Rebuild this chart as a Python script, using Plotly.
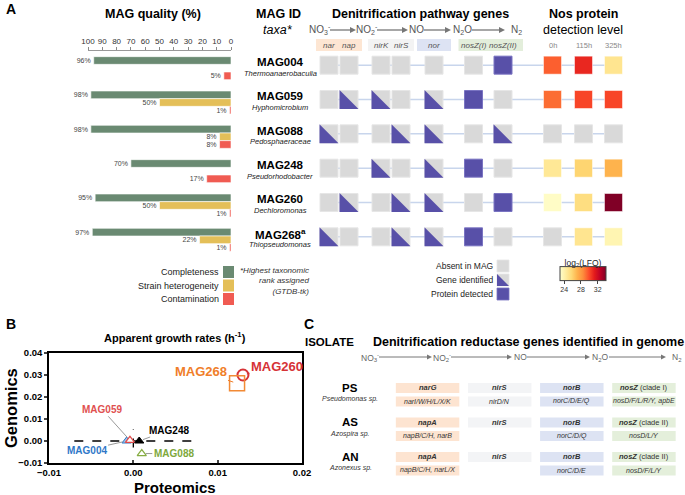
import plotly.graph_objects as go
from plotly.colors import sequential

W, H = 685, 495
FONT = "Arial, 'Liberation Sans', sans-serif"

# ------------------------------------------------------------------ data
MAGS = ["MAG004", "MAG059", "MAG088", "MAG248", "MAG260", "MAG268"]
MAG_LABELS = ["MAG004", "MAG059", "MAG088", "MAG248", "MAG260", "MAG268<sup>a</sup>"]
TAXA = ["Thermoanaerobaculia", "Hyphomicrobium", "Pedosphaeraceae",
        "Pseudorhodobacter", "Dechloromonas", "Thiopseudomonas"]
COMPLETENESS = [96, 98, 98, 70, 95, 97]
STRAIN_HET = [0, 50, 8, 0, 50, 22]
CONTAMINATION = [5, 1, 8, 17, 1, 1]
QUALITY_TICKS = [100, 90, 80, 70, 60, 50, 40, 30, 20, 10, 0]

GENES = ["nar", "nap", "nirK", "nirS", "nor", "nosZ(I)", "nosZ(II)"]
# 0 = absent in MAG, 1 = gene identified, 2 = protein detected
GENE_STATUS = [
    [0, 0, 0, 0, 0, 0, 2],
    [0, 1, 1, 0, 1, 2, 0],
    [1, 0, 0, 1, 1, 0, 1],
    [0, 0, 1, 0, 1, 2, 0],
    [0, 1, 0, 1, 1, 0, 2],
    [1, 0, 0, 1, 1, 2, 0],
]
NOS_TIMES = ["0h", "115h", "325h"]
NOS_LFQ = [
    [29.5, 30.9, 24.9],
    [29.2, 30.1, 30.1],
    [None, None, None],
    [24.7, 25.9, 27.1],
    [23.2, 25.4, 34.0],
    [None, 24.9, 23.8],
]
LFQ_RANGE = [23, 34]
LFQ_TICKS = [24, 28, 32]
PATHWAY_SPECIES = ["NO<sub>3</sub><sup>-</sup>", "NO<sub>2</sub><sup>-</sup>", "NO",
                   "N<sub>2</sub>O", "N<sub>2</sub>"]

PROTEOMICS_RATE = [-0.0008, -0.0004, 0.0010, 0.0007, 0.0130, 0.0123]
GENOMICS_RATE = [0.0000, 0.0003, -0.0057, 0.0000, 0.0300, 0.0262]
B_XTICKS = [-0.01, 0.0, 0.01, 0.02]
B_YTICKS = [-0.01, 0.0, 0.01, 0.02, 0.03, 0.04]
ZERO_HLINE_X = [-0.007, 0.007]
ZERO_VLINE_Y = [-0.003, 0.0055]

ISOLATES = ["PS", "AS", "AN"]
ISOLATE_TAXA = ["Pseudomonas sp.", "Azospira sp.", "Azonexus sp."]
CORE_GENES = [
    ["narG", "nirS", "norB", "nosZ (clade I)"],
    ["napA", "nirS", "norB", "nosZ (clade II)"],
    ["napA", "nirS", "norB", "nosZ (clade II)"],
]
ACCESSORY_GENES = [
    ["narI/W/H/L/X/K", "nirD/N", "norC/D/E/Q", "nosD/F/L/R/Y, apbE"],
    ["napB/C/H, narB", "", "norC/D/Q", "nosD/L/Y"],
    ["napB/C/H, narL/X", "", "norC/D/E", "nosD/F/L/Y"],
]

# ------------------------------------------------------------------ style / layout constants
GREEN, YELLOW, RED = "#6a8a72", "#e4bf58", "#f05b52"
GRAY_BOX, PURPLE = "#d9d9d9", "#5850a8"
LINK = "#c8d5ec"
GENE_X = [329, 349, 381, 401, 434, 473.5, 503]     # column centres (px) in panel A grid
HEAT_X = [552.5, 583.5, 613.5]
BOX = 18
ROW_PX = 206 / 6
C_COL_FILL = ["#fde4d1", "#f3f4f6", "#dde3f3", "#e4efdb"]
B_STYLE = {
    "MAG004": dict(symbol="triangle-up", size=8, color="#9fc4ea", line="#2f78c8", lw=1, tc="#2f78c8", ts=10, ax=-40, ay=9, ac="#999"),
    "MAG059": dict(symbol="triangle-up", size=8, color="white", line="#e04a4a", lw=1.2, tc="#e05050", ts=10, ax=-28, ay=-31, ac="#999"),
    "MAG088": dict(symbol="triangle-up", size=8, color="white", line="#86ad43", lw=1.2, tc="#7ea83c", ts=10, ax=32, ay=0, ac="#999"),
    "MAG248": dict(symbol="triangle-up", size=8, color="black", line="black", lw=1, tc="black", ts=10, ax=30, ay=-11, ac="#999"),
    "MAG260": dict(symbol="circle", size=11, color="rgba(255,255,255,0)", line="#d63336", lw=2, tc="#d63336", ts=13, ax=34, ay=-9, ac="#d63336"),
    "MAG268": dict(symbol="square", size=15, color="rgba(255,255,255,0)", line="#f28a35", lw=1.5, tc="#f07e2a", ts=13, ax=-36, ay=-12, ac="#f07e2a"),
}


def px(x):
    return x / W


def py(y):
    return 1 - y / H


fig = go.Figure()

# ------------------------------------------------------------------ Panel A: MAG quality bars
for name, vals, col in [("Completeness", COMPLETENESS, GREEN),
                        ("Strain heterogeneity", STRAIN_HET, YELLOW),
                        ("Contamination", CONTAMINATION, RED)]:
    fig.add_trace(go.Bar(
        y=MAGS, x=vals, orientation="h", name=name, xaxis="x", yaxis="y",
        marker=dict(color=col, line=dict(width=0.6, color="white")),
        text=[f"{v}%" if v else "" for v in vals], textposition="outside",
        textfont=dict(size=7, color="#444"), constraintext="none",
        cliponaxis=False, showlegend=False, hoverinfo="skip"))

# ------------------------------------------------------------------ Panel A: gene grid
link_x, link_y = [], []
for i in range(len(MAGS)):
    link_x += [GENE_X[0], HEAT_X[-1], None]
    link_y += [i, i, None]
fig.add_trace(go.Scatter(x=link_x, y=link_y, mode="lines", xaxis="x2", yaxis="y2",
                         line=dict(color=LINK, width=1.5), showlegend=False, hoverinfo="skip"))

gx, gy, sx, sy, tx, ty = [], [], [], [], [], []
hx = (BOX + 1) / 2
hy = hx / ROW_PX
for i, row in enumerate(GENE_STATUS):
    for j, s in enumerate(row):
        if s in (0, 1):
            gx.append(GENE_X[j]); gy.append(i)
        if s == 2:
            sx.append(GENE_X[j]); sy.append(i)
        if s == 1:
            cx = GENE_X[j]
            tx += [cx - hx, cx - hx, cx + hx, cx - hx, None]
            ty += [i - hy, i + hy, i + hy, i - hy, None]
for i, row in enumerate(NOS_LFQ):
    for j, v in enumerate(row):
        if v is None:
            gx.append(HEAT_X[j]); gy.append(i)

fig.add_trace(go.Scatter(x=gx, y=gy, mode="markers", xaxis="x2", yaxis="y2",
                         marker=dict(symbol="square", size=BOX, color=GRAY_BOX,
                                     line=dict(width=1, color="#e6e6e6")),
                         showlegend=False, hoverinfo="skip"))
fig.add_trace(go.Scatter(x=tx, y=ty, mode="lines", fill="toself", fillcolor=PURPLE,
                         xaxis="x2", yaxis="y2", line=dict(width=0, color=PURPLE),
                         showlegend=False, hoverinfo="skip"))
fig.add_trace(go.Scatter(x=sx, y=sy, mode="markers", xaxis="x2", yaxis="y2",
                         marker=dict(symbol="square", size=BOX, color=PURPLE,
                                     line=dict(width=1, color="#7a74c2")),
                         showlegend=False, hoverinfo="skip"))

colorscale = [[k / (len(sequential.YlOrRd) - 1), c] for k, c in enumerate(sequential.YlOrRd)]
hmx, hmy, hmv = [], [], []
for i, row in enumerate(NOS_LFQ):
    for j, v in enumerate(row):
        if v is not None:
            hmx.append(HEAT_X[j]); hmy.append(i); hmv.append(v)
fig.add_trace(go.Scatter(
    x=hmx, y=hmy, mode="markers", xaxis="x2", yaxis="y2", showlegend=False, hoverinfo="skip",
    marker=dict(symbol="square", size=BOX, color=hmv, colorscale=colorscale,
                cmin=LFQ_RANGE[0], cmax=LFQ_RANGE[1],
                line=dict(width=1, color="rgba(255,255,255,0.5)"),
                showscale=True,
                colorbar=dict(orientation="h", x=px(583), xanchor="center",
                              y=py(294), yanchor="bottom", len=46, lenmode="pixels",
                              thickness=14, thicknessmode="pixels",
                              title=dict(text="log<sub>2</sub>(LFQ)", side="top",
                                         font=dict(size=8.5, color="#222")),
                              tickvals=LFQ_TICKS, ticks="outside", ticklen=3,
                              tickfont=dict(size=7, color="#333"),
                              outlinewidth=1, outlinecolor="#444", xpad=0, ypad=0))))

# ------------------------------------------------------------------ Panel B
fig.add_trace(go.Scatter(x=ZERO_HLINE_X, y=[0, 0], mode="lines", xaxis="x3", yaxis="y3",
                         line=dict(color="black", width=1.3, dash="dash"),
                         showlegend=False, hoverinfo="skip"))
fig.add_trace(go.Scatter(x=[0, 0], y=ZERO_VLINE_Y, mode="lines", xaxis="x3", yaxis="y3",
                         line=dict(color="black", width=1.3, dash="dash"),
                         showlegend=False, hoverinfo="skip"))
for m, xv, yv in zip(MAGS, PROTEOMICS_RATE, GENOMICS_RATE):
    st = B_STYLE[m]
    fig.add_trace(go.Scatter(x=[xv], y=[yv], mode="markers", xaxis="x3", yaxis="y3",
                             marker=dict(symbol=st["symbol"], size=st["size"], color=st["color"],
                                         line=dict(color=st["line"], width=st["lw"])),
                             showlegend=False, hoverinfo="skip", cliponaxis=False))

annotations = []
shapes = []


def ann(x, y, text, size=10, color="#222", xanchor="center", yanchor="middle", **kw):
    d = dict(x=x, y=y, text=text, showarrow=False, xanchor=xanchor, yanchor=yanchor,
             font=dict(size=size, color=color, family=FONT))
    d.setdefault("xref", "paper")
    d.setdefault("yref", "paper")
    d.update(kw)
    annotations.append(d)


def arrow(x_tail, x_head, y, color, width, head=5.0):
    """Horizontal arrow drawn with shapes (pixel positions on the page)."""
    shapes.append(dict(type="line", xref="paper", yref="paper",
                       x0=px(x_tail), x1=px(x_head - head + 1), y0=py(y), y1=py(y),
                       line=dict(color=color, width=width)))
    hh = head * 0.5
    shapes.append(dict(type="path", xref="paper", yref="paper",
                       path=(f"M {px(x_head)} {py(y)} L {px(x_head - head)} {py(y - hh)} "
                             f"L {px(x_head - head)} {py(y + hh)} Z"),
                       fillcolor=color, line=dict(width=0)))


for m, xv, yv in zip(MAGS, PROTEOMICS_RATE, GENOMICS_RATE):
    st = B_STYLE[m]
    annotations.append(dict(x=xv, y=yv, xref="x3", yref="y3", text=f"<b>{m}</b>",
                            showarrow=True, arrowhead=0, arrowwidth=1, arrowcolor=st["ac"],
                            ax=st["ax"], ay=st["ay"], standoff=4,
                            font=dict(size=st["ts"], color=st["tc"], family=FONT)))

# ------------------------------------------------------------------ Panel A annotations
ann(px(4), py(9), "<b>A</b>", size=14, color="black", xanchor="left")
ann(px(153), py(14), "<b>MAG quality (%)</b>", size=12.5, color="black")
ann(px(278), py(14), "<b>MAG ID</b>", size=12.5, color="black")
ann(px(278), py(30), "<i>taxa*</i>", size=12.5, color="black")
ann(px(420), py(14), "<b>Denitrification pathway genes</b>", size=12.5, color="black")
ann(px(583), py(14), "<b>Nos protein</b>", size=12.5, color="black")
ann(px(583), py(30), "detection level", size=12.5, color="black")

for i, (lab, tax) in enumerate(zip(MAG_LABELS, TAXA)):
    ann(px(280), i, f"<b>{lab}</b>", size=11.5, color="black", yref="y2", yshift=3)
    ann(px(280), i, f"<i>{tax}</i>", size=7.5, color="#222", yref="y2", yshift=-8)

# header backgrounds for gene groups
hdr_groups = [(0, 1, -13, 13, "#fde6d3"), (2, 3, -13, 13, "#f3f3f3"),
              (4, 4, -17, 17, "#dde3f3"), (5, 6, -15, 20, "#e3eedb")]
for a, b, lo, hi, col in hdr_groups:
    shapes.append(dict(type="rect", xref="x2", yref="paper",
                       x0=GENE_X[a] + lo, x1=GENE_X[b] + hi,
                       y0=py(51), y1=py(39), fillcolor=col, line=dict(width=0), layer="below"))
for j, g in enumerate(GENES):
    ann(GENE_X[j], py(45), f"<i>{g}</i>", size=8, color="#555", xref="x2")
for j, t in enumerate(NOS_TIMES):
    ann(HEAT_X[j], py(45), t, size=7.5, color="#888", xref="x2")

# pathway species and arrows (panel A)
species_x = [320, 367, 416, 462, 516]
for sx_, sp in zip(species_x, PATHWAY_SPECIES):
    ann(px(sx_), py(30), sp, size=10, color="#555")
for k in range(len(species_x) - 1):
    x_tail = species_x[k] + (10 if k != 2 else 8)
    x_head = species_x[k + 1] - (11 if k + 1 != 2 else 8)
    arrow(x_tail, x_head, 30, "#777", 1.3, head=6)

# quality legend
for k, (name, col) in enumerate([("Completeness", GREEN), ("Strain heterogeneity", YELLOW),
                                 ("Contamination", RED)]):
    yc = 272 + k * 13.5
    shapes.append(dict(type="rect", xref="paper", yref="paper", x0=px(223), x1=px(234),
                       y0=py(yc + 6), y1=py(yc - 6), fillcolor=col, line=dict(width=0)))
    ann(px(221), py(yc), name, size=9, color="#222", xanchor="right")

ann(px(311), py(281), "<i>*Highest taxonomic<br>rank assigned<br>(GTDB-tk)</i>", size=8,
    color="#333", xanchor="right", align="right")

# gene legend
for k, name in enumerate(["Absent in MAG", "Gene identified", "Protein detected"]):
    yc = 266 + k * 14
    x0, x1, y0, y1 = 497, 509, yc - 6, yc + 6
    col = PURPLE if k == 2 else GRAY_BOX
    shapes.append(dict(type="rect", xref="paper", yref="paper", x0=px(x0), x1=px(x1),
                       y0=py(y1), y1=py(y0), fillcolor=col,
                       line=dict(width=0.8, color="#e6e6e6" if k < 2 else "#7a74c2")))
    if k == 1:
        shapes.append(dict(type="path", xref="paper", yref="paper",
                           path=f"M {px(x0)} {py(y0)} L {px(x0)} {py(y1)} L {px(x1)} {py(y1)} Z",
                           fillcolor=PURPLE, line=dict(width=0)))
    ann(px(495), py(yc), name, size=8.5, color="#222", xanchor="right")

# ------------------------------------------------------------------ Panel B annotations
ann(px(4), py(324), "<b>B</b>", size=14, color="black", xanchor="left")
ann(px(175), py(337), "<b>Apparent growth rates (h<sup>-1</sup>)</b>", size=11, color="black")
ann(px(175), py(487), "<b>Proteomics</b>", size=15, color="black", borderpad=0)
ann(px(11), py(408), "<b>Genomics</b>", size=16.5, color="black", textangle=-90)

# ------------------------------------------------------------------ Panel C
ann(px(302), py(324), "<b>C</b>", size=14, color="black", xanchor="left")
ann(px(303), py(342), "<b>ISOLATE</b>", size=11.5, color="black", xanchor="left")
ann(px(371), py(342), "<b>Denitrification reductase genes identified in genome</b>", size=12.5,
    color="black", xanchor="left")
c_species_x = [370, 442, 520, 600, 676]
for sx_, sp in zip(c_species_x, PATHWAY_SPECIES):
    ann(px(sx_), py(357), sp, size=8.5, color="#666")
for k in range(len(c_species_x) - 1):
    x_tail = c_species_x[k] + (9 if k != 2 else 7)
    x_head = c_species_x[k + 1] - (10 if k + 1 != 2 else 8)
    arrow(x_tail, x_head, 357, "#777", 1, head=5)

C_SUB = 0.39
C_HW = 0.44
C_HH = 5 / 34.5
for i, (iso, tax) in enumerate(zip(ISOLATES, ISOLATE_TAXA)):
    ann(px(350), i, f"<b>{iso}</b>", size=11.5, color="black", yref="y4", yshift=0)
    ann(px(350), i + 0.33, f"<i>{tax}</i>", size=7, color="#333", yref="y4")
    for j in range(4):
        for sub, genes in ((0, CORE_GENES), (1, ACCESSORY_GENES)):
            g = genes[i][j]
            if not g:
                continue
            yc = i + sub * C_SUB
            shapes.append(dict(type="rect", xref="x4", yref="y4", x0=j - C_HW, x1=j + C_HW,
                               y0=yc - C_HH, y1=yc + C_HH, fillcolor=C_COL_FILL[j],
                               line=dict(width=0), layer="below"))
            if sub == 0:
                parts = g.split(" ", 1)
                txt = f"<b><i>{parts[0]}</i></b>" + (f" {parts[1]}" if len(parts) > 1 else "")
                size = 7.5
            else:
                txt = f"<i>{g}</i>"
                size = 7
            ann(j, yc, txt, size=size, color="#333", xref="x4", yref="y4")

# ------------------------------------------------------------------ layout
hidden = dict(visible=False, showgrid=False, zeroline=False)
fig.update_layout(
    template="none",
    width=W, height=H, margin=dict(l=0, r=0, t=0, b=0, pad=0, autoexpand=False),
    paper_bgcolor="white", plot_bgcolor="rgba(0,0,0,0)",
    font=dict(family=FONT, color="#222"),
    barmode="group", bargap=0.33, bargroupgap=0,
    showlegend=False,
    xaxis=dict(domain=[px(88), px(231)], range=[100, 0], side="top", anchor="y",
               tickvals=QUALITY_TICKS, ticks="outside", ticklen=3, tickcolor="#888",
               tickfont=dict(size=8, color="#333"), showline=True, linecolor="#999",
               linewidth=1, showgrid=False, zeroline=False, fixedrange=True),
    yaxis=dict(domain=[py(257), py(51)], type="category", categoryarray=MAGS,
               range=[5.5, -0.5], anchor="x", **hidden),
    xaxis2=dict(domain=[0, 1], range=[0, W], anchor="y2", **hidden),
    yaxis2=dict(domain=[py(254), py(48)], range=[5.5, -0.5], anchor="x2", **hidden),
    xaxis3=dict(domain=[px(49), px(302)], range=[-0.01, 0.02], anchor="y3",
                tickvals=B_XTICKS, tickformat=".2f", ticks="inside", ticklen=3, tickwidth=1.5,
                tickfont=dict(size=9.5, color="black", weight="bold"),
                showline=True, mirror=True, linecolor="black", linewidth=1.5,
                showgrid=False, zeroline=False),
    yaxis3=dict(domain=[py(463), py(353)], range=[-0.01, 0.04], anchor="x3",
                tickvals=B_YTICKS, tickformat=".2f", ticks="outside", ticklen=3, tickwidth=1.5,
                tickfont=dict(size=9.5, color="black", weight="bold"),
                showline=True, mirror=True, linecolor="black", linewidth=1.5,
                showgrid=False, zeroline=False),
    xaxis4=dict(domain=[px(391.5), px(680)], range=[-0.5, 3.5], anchor="y4", **hidden),
    yaxis4=dict(domain=[py(488), py(370.75)], range=[2.9, -0.5], anchor="x4", **hidden),
    annotations=annotations,
    shapes=shapes,
)

fig.write_html("out.html", config={"displayModeBar": False},
               post_script="document.body.style.margin='0px';")
